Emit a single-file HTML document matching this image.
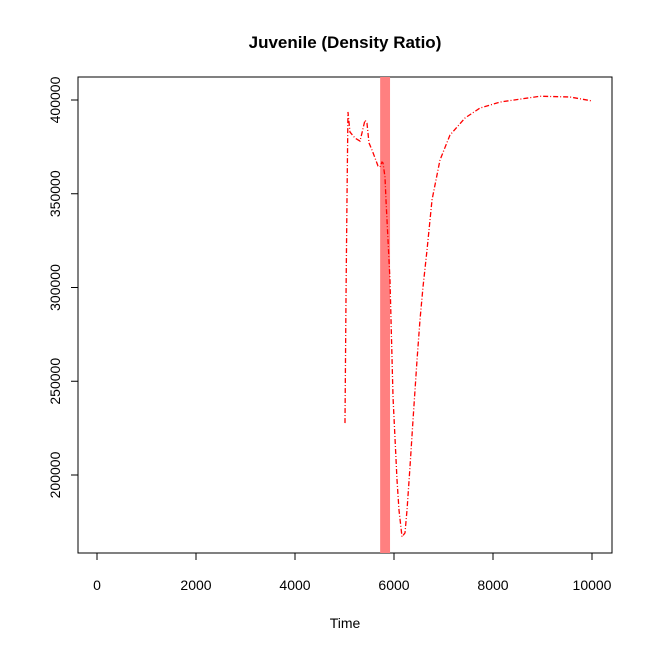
<!DOCTYPE html>
<html><head><meta charset="utf-8"><style>
body{margin:0;background:#fff}
svg{display:block;font-family:"Liberation Sans",Arial,sans-serif}
</style></head><body>
<svg id="c" width="653" height="653">
<text x="345" y="48" text-anchor="middle" font-size="17" font-weight="bold">Juvenile (Density Ratio)</text>
<text x="345" y="628" text-anchor="middle" font-size="14">Time</text>
<rect x="78" y="77" width="534" height="476" fill="none" stroke="#000"/>
<g id="ax"></g>
<g id="marks"></g>
</svg>
<script>
const xTicks=[0,2000,4000,6000,8000,10000];
const yTicks=[200000,250000,300000,350000,400000];
const bandTime=[5720,5920];
const times=[5010,5030,5050,5070,5111,5212,5313,5353,5414,5454,5495,5556,5616,5677,5717,5758,5778,5818,5838,5879,5919,5980,6061,6101,6162,6222,6263,6323,6384,6465,6525,6586,6667,6768,6929,7131,7434,7737,8141,8949,9556,10000];
const values=[227700,293300,346700,393600,382900,379700,378100,382400,389300,387700,377100,373300,369100,364800,364300,366900,366400,358900,346700,325300,304000,241600,197300,181300,167000,169100,181300,204300,229300,261300,282700,300300,320000,346700,368000,381300,390400,395700,398900,402000,401600,399500];
const X=t=>97+(t/10000)*495;
const Y=v=>100+(400000-v)/200000*375;
const ns="http://www.w3.org/2000/svg";
const ax=document.getElementById('ax'),mk=document.getElementById('marks');
function el(tag,attrs,parent){const e=document.createElementNS(ns,tag);for(const k in attrs)e.setAttribute(k,attrs[k]);parent.appendChild(e);return e;}
const xl=el('line',{x1:X(0),x2:X(10000),y1:553,y2:553,stroke:'#000'},ax);


xTicks.forEach(t=>{
  const l=el('line',{x1:X(t),x2:X(t),y1:553,y2:560,stroke:'#000'},ax);
  
  
  const tx=el('text',{x:X(t),y:590,'text-anchor':'middle','font-size':14},ax);tx.textContent=t;
  
  
});
const yl=el('line',{x1:78,x2:78,y1:Y(400000),y2:Y(200000),stroke:'#000'},ax);


yTicks.forEach(v=>{
  const l=el('line',{x1:71,x2:78,y1:Y(v),y2:Y(v),stroke:'#000'},ax);
  
  
  const tx=el('text',{x:0,y:0,'text-anchor':'middle','font-size':14,transform:`translate(60,${Y(v)}) rotate(-90)`},ax);tx.textContent=v;
  
  
});
const band=el('rect',{x:X(bandTime[0]),y:77,width:X(bandTime[1])-X(bandTime[0]),height:476,fill:'#ff8080'},mk);


const p=el('polyline',{points:times.map((t,i)=>X(t)+','+Y(values[i])).join(' '),fill:'none',stroke:'#ff0000','stroke-width':1.3,'stroke-dasharray':'5,2,1,2'},mk);


</script>
</body></html>
